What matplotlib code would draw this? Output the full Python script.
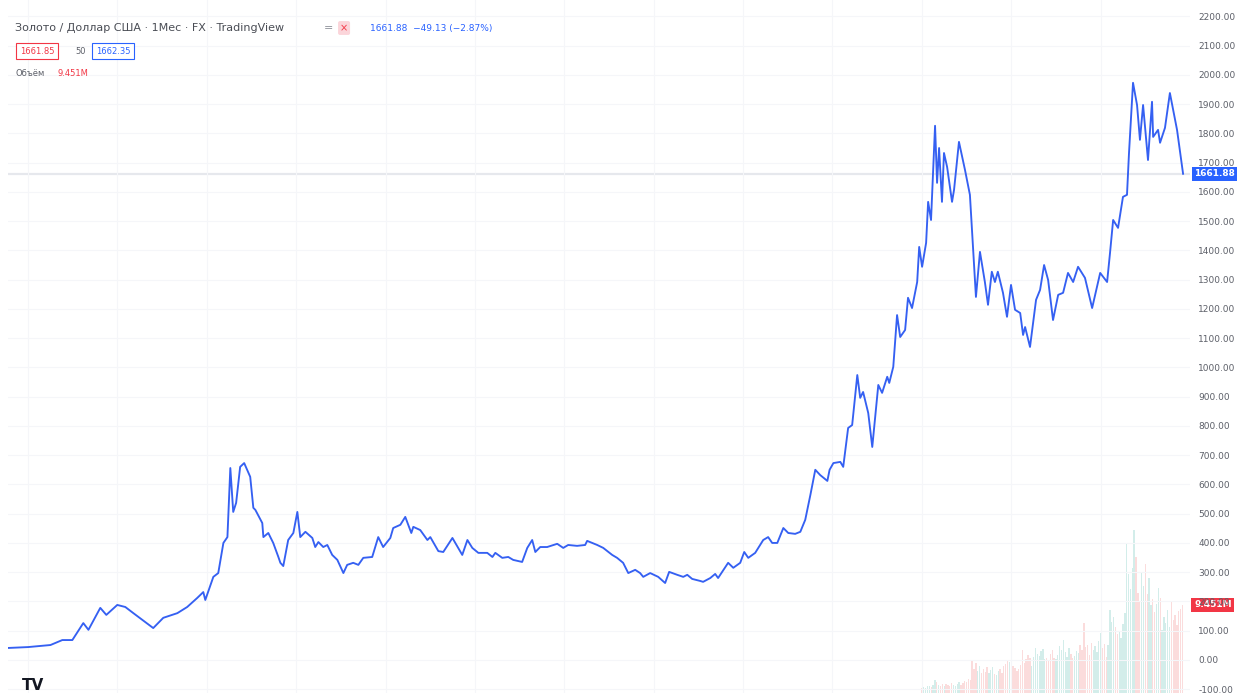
import numpy as np
import matplotlib.pyplot as plt
from matplotlib import transforms

# gold / usd monthly close (decimal year, price)
years = [1970.12, 1971.0, 1972.0, 1972.53, 1972.98, 1973.47, 1973.70, 1974.23, 1974.50, 1974.99,
         1975.35, 1975.71, 1976.60, 1977.05, 1977.68, 1978.12, 1978.57, 1978.84, 1978.93, 1979.29,
         1979.51, 1979.74, 1979.92, 1980.05, 1980.18, 1980.31, 1980.49, 1980.67, 1980.94, 1981.08,
         1981.17, 1981.48, 1981.53, 1981.75, 1981.97, 1982.20, 1982.29, 1982.42, 1982.64, 1982.87,
         1983.05, 1983.18, 1983.41, 1983.72, 1983.85, 1983.99, 1984.21, 1984.39, 1984.61, 1984.84,
         1985.11, 1985.28, 1985.55, 1985.78, 1986.00, 1986.40, 1986.67, 1986.89, 1987.21, 1987.34,
         1987.66, 1987.88, 1988.15, 1988.24, 1988.55, 1988.87, 1989.00, 1989.36, 1989.58, 1989.99,
         1990.12, 1990.43, 1990.66, 1990.88, 1991.15, 1991.55, 1991.78, 1991.91, 1992.22, 1992.49,
         1992.71, 1993.11, 1993.34, 1993.56, 1993.70, 1993.92, 1994.23, 1994.68, 1994.95, 1995.17,
         1995.57, 1995.93, 1996.02, 1996.47, 1996.74, 1997.14, 1997.36, 1997.63, 1997.86, 1998.17,
         1998.39, 1998.53, 1998.84, 1999.20, 1999.51, 1999.69, 2000.05, 2000.32, 2000.50, 2000.72,
         2001.08, 2001.21, 2001.53, 2001.75, 2001.88, 2002.33, 2002.56, 2002.87, 2003.05, 2003.23,
         2003.54, 2003.90, 2004.12, 2004.30, 2004.53, 2004.80, 2005.02, 2005.33, 2005.56, 2005.78,
         2006.01, 2006.23, 2006.45, 2006.77, 2006.87, 2007.04, 2007.35, 2007.48, 2007.70, 2007.88,
         2008.11, 2008.24, 2008.37, 2008.60, 2008.78, 2009.05, 2009.22, 2009.45, 2009.54, 2009.72,
         2009.89, 2010.03, 2010.25, 2010.38, 2010.56, 2010.79, 2010.88, 2011.01, 2011.19, 2011.28,
         2011.41, 2011.59, 2011.68, 2011.77, 2011.90, 2011.99, 2012.13, 2012.35, 2012.44, 2012.66,
         2012.93, 2013.15, 2013.42, 2013.60, 2013.82, 2013.96, 2014.13, 2014.27, 2014.40, 2014.63,
         2014.81, 2014.99, 2015.17, 2015.40, 2015.53, 2015.62, 2015.84, 2016.11, 2016.29, 2016.47,
         2016.65, 2016.87, 2017.10, 2017.32, 2017.54, 2017.77, 2017.99, 2018.30, 2018.62, 2018.98,
         2019.29, 2019.42, 2019.56, 2019.78, 2020.00, 2020.18, 2020.27, 2020.45, 2020.63, 2020.76,
         2020.90, 2021.12, 2021.30, 2021.35, 2021.57, 2021.66, 2021.88, 2022.10, 2022.42, 2022.69]
prices = [41, 44, 51, 68, 68, 126, 103, 178, 154, 188,
          181, 160, 109, 144, 160, 181, 212, 232, 205, 284,
          297, 400, 420, 656, 506, 537, 660, 673, 626, 520,
          513, 468, 420, 434, 400, 352, 332, 321, 410, 434,
          506, 420, 438, 417, 386, 403, 386, 393, 359, 342,
          297, 325, 332, 325, 349, 352, 420, 386, 417, 451,
          462, 489, 434, 455, 444, 410, 420, 372, 369, 417,
          400, 359, 410, 383, 366, 366, 352, 366, 349, 352,
          342, 335, 383, 410, 369, 386, 386, 397, 383, 393,
          390, 393, 407, 393, 383, 359, 349, 332, 297, 308,
          297, 284, 297, 284, 263, 301, 291, 284, 291, 277,
          270, 267, 280, 294, 280, 332, 315, 332, 369, 349,
          366, 410, 420, 400, 400, 451, 434, 431, 438, 479,
          564, 650, 632, 612, 650, 673, 677, 660, 793, 803,
          974, 896, 916, 844, 728, 940, 913, 968, 947, 1002,
          1179, 1104, 1128, 1238, 1203, 1292, 1412, 1344, 1426, 1566,
          1504, 1826, 1631, 1750, 1566, 1733, 1685, 1566, 1607, 1771,
          1675, 1590, 1241, 1395, 1292, 1214, 1327, 1292, 1327, 1255,
          1173, 1282, 1197, 1186, 1111, 1138, 1070, 1231, 1265, 1350,
          1299, 1162, 1248, 1255, 1323, 1292, 1344, 1306, 1203, 1323,
          1292, 1391, 1504, 1477, 1583, 1590, 1733, 1973, 1897, 1778,
          1897, 1709, 1908, 1788, 1812, 1768, 1819, 1938, 1812, 1661.88]

# monthly volume (millions), from Jan 2011
vol_start = 2011.0
volumes = [0.5, 0.6, 0.5, 0.7, 0.8, 0.6, 0.9, 1.4, 1.2, 0.9, 0.8, 1.0,
           0.8, 1.0, 0.9, 0.7, 1.1, 0.9, 0.8, 1.0, 1.2, 0.9, 1.1, 1.3,
           1.2, 1.5, 1.4, 3.5, 2.6, 3.2, 2.4, 2.9, 2.1, 2.6, 2.3, 2.8,
           2.2, 2.5, 2.8, 2.0, 1.9, 2.4, 2.6, 2.1, 2.9, 3.1, 3.5, 3.3,
           3.4, 2.9, 2.7, 2.4, 2.6, 3.0, 4.6, 3.2, 3.6, 4.1, 3.8, 2.9,
           3.9, 4.8, 4.2, 4.0, 4.5, 4.7, 3.6, 3.8, 3.5, 4.2, 4.6, 3.8,
           3.7, 4.1, 5.0, 4.6, 5.7, 4.4, 3.9, 4.8, 4.2, 3.8, 4.0, 4.5,
           4.3, 5.1, 4.6, 7.5, 4.9, 5.2, 4.1, 5.4, 4.6, 5.0, 4.4, 5.6,
           6.4, 4.8, 5.3, 3.9, 5.1, 8.9, 7.6, 8.2, 7.1, 6.3, 6.7, 5.9,
           7.4, 8.6, 16.1, 12.8, 11.2, 13.4, 17.5, 14.6, 10.7, 9.8, 12.9, 11.5,
           13.8, 10.6, 12.4, 9.4, 10.1, 8.7, 9.6, 11.3, 10.2, 6.8, 8.2, 7.5,
           8.9, 7.1, 9.9, 7.8, 8.4, 7.3, 8.8, 9.0, 9.451]

last_price = 1661.88
price_ticks = list(range(-100, 2201, 100))
grid_years = list(range(1971, 2020, 4))

W, H = 1248, 693
fig = plt.figure(figsize=(W / 100, H / 100), dpi=100)
ax = fig.add_axes([8 / W, 0, (1190 - 8) / W, 1])
axv = ax.twinx()
ax.set_zorder(axv.get_zorder() + 1)
ax.patch.set_visible(False)

# volume bars
vt = vol_start + np.arange(len(volumes)) / 12
p_now = np.interp(vt, years, prices)
p_prev = np.interp(vt - 1 / 12, years, prices)
vcol = ["#26a69a" if a >= b else "#ef5350" for a, b in zip(p_now, p_prev)]
axv.bar(vt, volumes, width=0.06, color=vcol, alpha=0.2, linewidth=0)
axv.set_ylim(0, 74.4)
axv.set_yticks([])
for s in axv.spines.values():
    s.set_visible(False)

# price
ax.axhline(last_price, color="#e6e8ed", lw=1.6, zorder=1)
ax.plot(years, prices, color="#3560f2", lw=1.35, zorder=3)
ax.set_xlim(1970.1, 2023.0)
ax.set_ylim(-113, 2256)
ax.set_yticks(price_ticks)
ax.set_xticks(grid_years)
ax.grid(True, color="#f5f6f9", lw=0.8)
ax.tick_params(axis="x", length=0, labelbottom=False)
ax.yaxis.tick_right()
ax.tick_params(axis="y", length=0, pad=6, labelsize=6.5, labelcolor="#5d6069")
ax.set_yticklabels([f"{v:.2f}" for v in price_ticks])
for s in ax.spines.values():
    s.set_visible(False)

# price / volume labels on the scale
tr = transforms.blended_transform_factory(ax.transAxes, ax.transData)
ax.text(1.0035, last_price, f"{last_price:.2f}", transform=tr, va="center", ha="left",
        fontsize=6.5, color="white", fontweight="bold",
        bbox=dict(boxstyle="square,pad=0.25", fc="#2962ff", ec="none"), zorder=5)
trv = transforms.blended_transform_factory(axv.transAxes, axv.transData)
axv.text(1.0035, volumes[-1], "9.451M", transform=trv, va="center", ha="left",
         fontsize=6.5, color="white", fontweight="bold",
         bbox=dict(boxstyle="square,pad=0.3", fc="#f23645", ec="none"))

# legend header
def px(x, y):
    return x / W, 1 - y / H

fig.text(*px(15, 28), "Золото / Доллар США · 1Мес · FX · TradingView", fontsize=8,
         color="#4a4d55", va="center")
fig.text(*px(324, 28), "=", fontsize=8, color="#8a8d96", va="center")
fig.text(*px(340, 28), "×", fontsize=7, color="#f23645", va="center",
         bbox=dict(boxstyle="round,pad=0.2", fc="#fbd5da", ec="none"))
fig.text(*px(370, 28), "1661.88  −49.13 (−2.87%)", fontsize=6.5, color="#2962ff", va="center")
fig.text(*px(20, 51), "1661.85", fontsize=6, color="#f23645", va="center",
         bbox=dict(boxstyle="square,pad=0.45", fc="white", ec="#f23645", lw=0.8))
fig.text(*px(75, 51), "50", fontsize=6, color="#5d6069", va="center")
fig.text(*px(96, 51), "1662.35", fontsize=6, color="#2962ff", va="center",
         bbox=dict(boxstyle="square,pad=0.45", fc="white", ec="#2962ff", lw=0.8))
fig.text(*px(15, 73), "Объём", fontsize=6, color="#5d6069", va="center")
fig.text(*px(57, 73), "9.451M", fontsize=6, color="#f23645", va="center")
fig.text(*px(22, 686), "TV", fontsize=11, color="#131722", fontweight="bold", va="center")

fig.savefig("out.png", dpi=100)
